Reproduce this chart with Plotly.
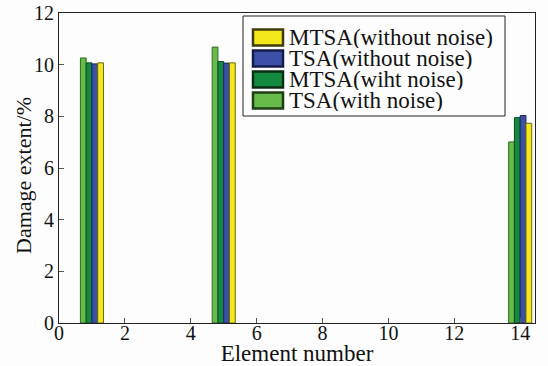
import plotly.graph_objects as go

elements = [1, 5, 14]
series_names = ["TSA(with noise)", "MTSA(wiht noise)", "TSA(without noise)", "MTSA(without noise)"]
tsa_noise = [10.26, 10.68, 7.01]
mtsa_noise = [10.07, 10.12, 7.95]
tsa_clean = [10.03, 10.06, 8.03]
mtsa_clean = [10.07, 10.07, 7.73]
series_values = [tsa_noise, mtsa_noise, tsa_clean, mtsa_clean]
x_ticks = [0, 2, 4, 6, 8, 10, 12, 14]
y_ticks = [0, 2, 4, 6, 8, 10, 12]
x_title = "Element number"
y_title = "Damage extent/%"

fills = ["#66bb4a", "#148a40", "#3b50a6", "#f2e81c"]
edges = ["#2f6b22", "#0b4a22", "#1a2660", "#6b6a10"]
legend_edges = ["#1f3f12", "#0a2e14", "#141c48", "#3e3c0c"]

W, H = 548, 366
ML, MR, MT, MB = 59, 13, 13, 43
PW, PH = W - ML - MR, H - MT - MB

def px(x):  # page px -> paper x
    return (x - ML) / PW

def py(y):  # page px -> paper y
    return (H - MB - y) / PH

fig = go.Figure()
bw = 0.175
for i, (name, vals) in enumerate(zip(series_names, series_values)):
    fig.add_trace(go.Bar(
        x=elements, y=vals, name=name,
        width=bw, offset=-2 * bw + i * bw,
        marker=dict(color=fills[i], line=dict(color=edges[i], width=1)),
        showlegend=False,
    ))

font = "Liberation Serif, Times New Roman, serif"

# legend box (entries in reversed order like the original)
shapes = [dict(type="rect", xref="paper", yref="paper",
               x0=px(243), x1=px(505), y0=py(16), y1=py(116),
               line=dict(color="#222", width=1), fillcolor="#fdfdfd", layer="above")]
annotations = []
row_top = 29
row_h = 21
for k, i in enumerate(reversed(range(len(series_names)))):
    yc = row_top + 8.5 + k * row_h
    shapes.append(dict(type="rect", xref="paper", yref="paper",
                       x0=px(253), x1=px(283), y0=py(yc - 8), y1=py(yc + 8),
                       line=dict(color=legend_edges[i], width=2.5),
                       fillcolor=fills[i], layer="above"))
    annotations.append(dict(xref="paper", yref="paper", x=px(287), y=py(yc),
                            xanchor="left", yanchor="middle", showarrow=False,
                            text=series_names[i], height=21, valign="middle",
                            font=dict(family=font, size=23, color="#111")))

# y-axis title placed like the original (slightly below the plot centre)
annotations.append(dict(xref="paper", yref="paper", x=px(23), y=py(176),
                        xanchor="center", yanchor="middle", showarrow=False,
                        textangle=-90, text=y_title,
                        font=dict(family=font, size=22, color="#111")))

fig.update_layout(
    width=W, height=H,
    margin=dict(l=ML, r=MR, t=MT, b=MB, pad=0),
    paper_bgcolor="#fdfdfd", plot_bgcolor="#fdfdfd",
    font=dict(family=font, size=20, color="#111"),
    barmode="overlay",
    showlegend=False,
    shapes=shapes,
    annotations=annotations,
    xaxis=dict(
        range=[0, 14.45], tickvals=x_ticks, ticks="inside", ticklen=5,
        tickcolor="#555",
        showline=True, linecolor="#222", linewidth=1, mirror=True,
        showgrid=False, zeroline=False, automargin=False,
        ticklabelstandoff=-8,
        title=dict(text=x_title, standoff=0, font=dict(size=23)),
        tickfont=dict(size=20),
    ),
    yaxis=dict(
        range=[0, 12], tickvals=y_ticks, ticks="inside", ticklen=5,
        tickcolor="#555",
        showline=True, linecolor="#222", linewidth=1, mirror=True,
        showgrid=False, zeroline=False, automargin=False,
        tickfont=dict(size=20),
    ),
)
fig.write_html("out.html", config={"displayModeBar": False},
               post_script="document.body.style.margin='0';")
